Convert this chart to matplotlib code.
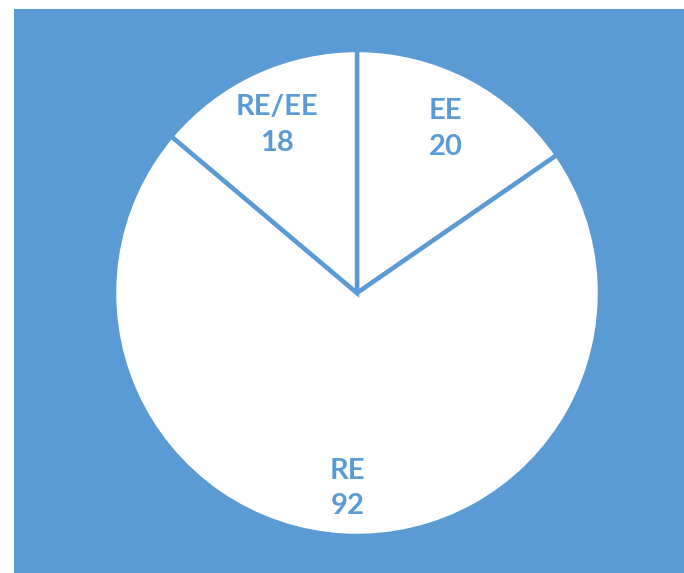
import matplotlib
matplotlib.use("Agg")
import matplotlib.pyplot as plt
from matplotlib.patches import Rectangle

categories = ["EE", "RE", "RE/EE"]
values = [20, 92, 18]

BLUE = "#5B9BD5"
W, H = 684, 573

fig = plt.figure(figsize=(W / 100, H / 100), dpi=100, facecolor="white")
ax = fig.add_axes([0, 0, 1, 1])

ax.add_patch(Rectangle((14, 0), W - 14, H - 9, facecolor=BLUE, edgecolor="none", zorder=0))

labels = [f"{c}\n{v}" for c, v in zip(categories, values)]
wedges, texts = ax.pie(values, labels=labels, startangle=90, counterclock=False,
                       center=(357, H - 293), radius=243, labeldistance=0.785,
                       colors=["white"] * len(values),
                       wedgeprops=dict(edgecolor=BLUE, linewidth=3.2),
                       textprops=dict(color=BLUE, fontsize=21, fontweight="bold",
                                      family=["Lato", "DejaVu Sans"]),
                       frame=True)
ax.set_xlim(0, W)
ax.set_ylim(0, H)
ax.set_aspect("equal")
ax.axis("off")
for t in texts:
    t.set_ha("center")
    t.set_va("center")
    t.set_linespacing(1.45)
    x, y = t.get_position()
    t.set_position((x, y - 5))

fig.savefig("out.png", dpi=100, facecolor="white")
